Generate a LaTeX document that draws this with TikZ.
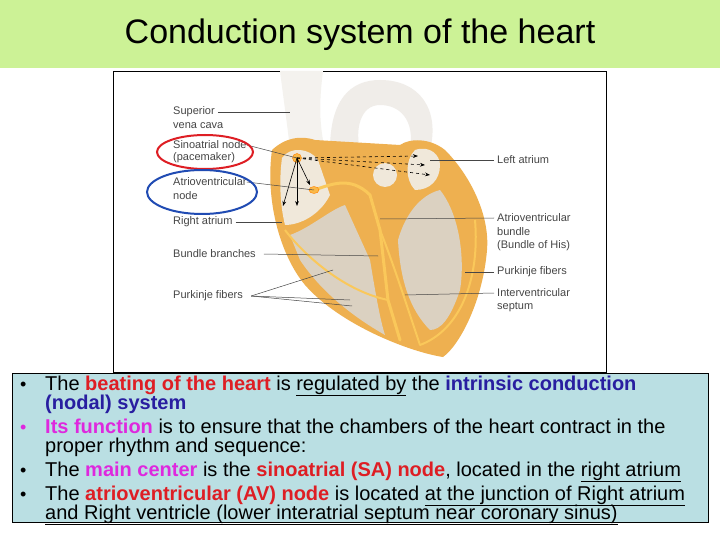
\documentclass[tikz,border=0pt]{standalone}
\usepackage{fontspec}
\setmainfont{Liberation Sans}
\usetikzlibrary{arrows.meta}
\definecolor{titlegreen}{RGB}{204,242,150}
\definecolor{boxblue}{RGB}{186,223,227}
\definecolor{hred}{RGB}{222,30,36}
\definecolor{hblue}{RGB}{40,30,160}
\definecolor{hmag}{RGB}{222,40,222}
\definecolor{heartor}{RGB}{238,176,80}
\definecolor{fiber}{RGB}{250,200,90}
\definecolor{cream}{RGB}{240,232,218}
\definecolor{tan}{RGB}{170,155,135}
\definecolor{lbl}{RGB}{70,70,70}
\tikzset{
  lab/.style={font=\fontsize{11}{12}\selectfont, text=lbl, anchor=west, inner sep=0pt},
  leader/.style={draw=lbl, line width=0.5pt},
  txt/.style={font=\fontsize{20}{21}\selectfont, anchor=base west, inner sep=0pt},
  bul/.style={font=\fontsize{18}{19}\selectfont, anchor=base west, inner sep=0pt},
}
\begin{document}
\begin{tikzpicture}[x=1pt,y=-1pt]
\useasboundingbox (0,0) rectangle (720,540);
\fill[white] (0,0) rectangle (720,540);
% title band
\fill[titlegreen] (0,0) rectangle (720,68);
\node[font=\fontsize{34}{36}\selectfont, inner sep=0pt] (title) at (360,35) {Conduction system of the heart};
% image frame
\draw[black, line width=0.8pt, fill=white] (113,71) rectangle (606,372);
% vessels
\fill[cream!80!gray!30] (280,71) .. controls (285,110) and (288,130) .. (290,150) -- (325,150) .. controls (318,120) and (320,95) .. (323,71) -- cycle;
\fill[cream!80!gray!40] (330,150) .. controls (330,100) and (350,80) .. (380,80) .. controls (420,80) and (440,110) .. (430,150) -- (410,150) .. controls (415,120) and (400,105) .. (380,105) .. controls (360,105) and (355,130) .. (360,150) -- cycle;
% heart body
\fill[heartor] (272,150) .. controls (285,138) and (300,135) .. (315,140) -- (400,145) .. controls (410,138) and (430,138) .. (445,150)
  .. controls (470,175) and (490,215) .. (487,250) .. controls (483,300) and (460,345) .. (443,357)
  .. controls (410,352) and (340,325) .. (305,285) .. controls (280,255) and (265,200) .. (272,150) -- cycle;
% chambers
\fill[cream] (282,158) .. controls (290,146) and (310,148) .. (318,160) -- (330,195) .. controls (320,215) and (300,225) .. (285,225) .. controls (280,205) and (279,180) .. (282,158) -- cycle;
\fill[cream] (415,150) .. controls (430,145) and (440,155) .. (440,165) .. controls (440,180) and (430,190) .. (415,190) .. controls (405,180) and (405,160) .. (415,150) -- cycle;
\fill[cream!70!tan] (290,235) .. controls (310,228) and (330,210) .. (345,205) -- (370,260) .. controls (375,290) and (380,320) .. (385,335) .. controls (350,315) and (320,290) .. (300,260) -- cycle;
\fill[cream!70!tan] (398,240) .. controls (405,215) and (420,195) .. (440,190) .. controls (460,215) and (465,260) .. (460,290) .. controls (450,320) and (440,330) .. (430,330) .. controls (410,310) and (400,280) .. (398,240) -- cycle;
\fill[cream] (385,175) circle (12);
% fibres
\draw[fiber, line width=3pt, line cap=round] (314,190) .. controls (330,185) and (350,175) .. (370,195) -- (380,230) -- (388,300) -- (400,340);
\draw[fiber, line width=2pt, line cap=round] (380,230) .. controls (392,260) and (405,300) .. (420,345);
\draw[fiber, line width=2pt] (420,345) .. controls (460,330) and (480,280) .. (475,220);
\draw[fiber, line width=2pt] (388,300) .. controls (340,290) and (300,250) .. (285,230);
% nodes
\fill[fiber!80!orange, draw=orange] (297,158) circle (4.5);
\fill[fiber!80!orange, draw=orange] (314,190) ellipse (5 and 3.5);
\coordinate (sa) at (297,158);
\coordinate (av) at (314,190);
% arrows
\foreach \p in {(418,156),(425,165),(430,175)} \draw[dashed, -{Stealth[length=5pt]}, line width=0.6pt] (sa) -- \p;
\foreach \p in {(283,206),(297,206),(310,185)} \draw[-{Stealth[length=5pt]}, line width=0.6pt] (sa) -- \p;
% labels left
\node[lab] (svc) at (173,112) {Superior}; \node[lab] at (173,126) {vena cava};
\draw[leader] (svc.east) ++(3,0) -- (290,112);
\node[lab] (san) at (173,145) {Sinoatrial node}; \node[lab] at (173,158) {(pacemaker)};
\draw[leader] (san.east) -- (sa);
\node[lab] (avn) at (173,182) {Atrioventricular}; \node[lab] at (173,196) {node};
\draw[leader] (avn.east) -- (av);
\draw[hred, line width=2pt] (205,152) ellipse (48 and 17);
\draw[hblue!80!cyan, line width=2pt] (202,192) ellipse (55 and 22);
\node[lab] (ra) at (173,222) {Right atrium};
\draw[leader] (ra.east) ++(3,0) -- (282,222);
\node[lab] (bb) at (173,254) {Bundle branches};
\draw[leader] (bb.east) ++(8,0) -- (378,256);
\node[lab] (pf) at (173,296) {Purkinje fibers};
\draw[leader] (pf.east) ++(8,0) coordinate (pfj) -- (333,270);
\draw[leader] (pfj) -- (350,300); \draw[leader] (pfj) -- (352,306);
% labels right
\node[lab] (la) at (497,160) {Left atrium};
\draw[leader] (la.west) ++(-3,0) -- (430,160);
\node[lab] (avb) at (497,218) {Atrioventricular}; \node[lab] at (497,232) {bundle}; \node[lab] at (497,246) {(Bundle of His)};
\draw[leader] (avb.west) ++(-3,0) -- (380,219);
\node[lab] (pf2) at (497,272) {Purkinje fibers};
\draw[leader] (pf2.west) ++(-3,0) -- (465,272);
\node[lab] (ivs) at (497,293) {Interventricular}; \node[lab] at (497,307) {septum};
\draw[leader] (ivs.west) ++(-3,0) -- (405,295);
% text box
\draw[black, line width=0.8pt, fill=boxblue] (12,373) rectangle (708,522);
\node[bul] at (20,390) {•}; 
\node[txt] at (45,390) {The \textcolor{hred}{\bfseries beating of the heart} is \underline{regulated by} the \textcolor{hblue}{\bfseries intrinsic conduction}};
\node[txt] at (45,409) {\textcolor{hblue}{\bfseries (nodal) system}};
\node[bul, text=hmag] at (20,433) {•};
\node[txt] at (45,433) {\textcolor{hmag}{\bfseries Its function} is to ensure that the chambers of the heart contract in the};
\node[txt] at (45,452) {proper rhythm and sequence:};
\node[bul] at (20,476) {•};
\node[txt] at (45,476) {The \textcolor{hmag}{\bfseries main center} is the \textcolor{hred}{\bfseries sinoatrial (SA) node}, located in the \underline{right atrium}};
\node[bul] at (20,500) {•};
\node[txt] at (45,500) {The \textcolor{hred}{\bfseries atrioventricular (AV) node} is located \underline{at the junction of Right atrium}};
\node[txt] at (45,519) {\underline{and Right ventricle (lower interatrial septum near coronary sinus)}};
\end{tikzpicture}
\end{document}
